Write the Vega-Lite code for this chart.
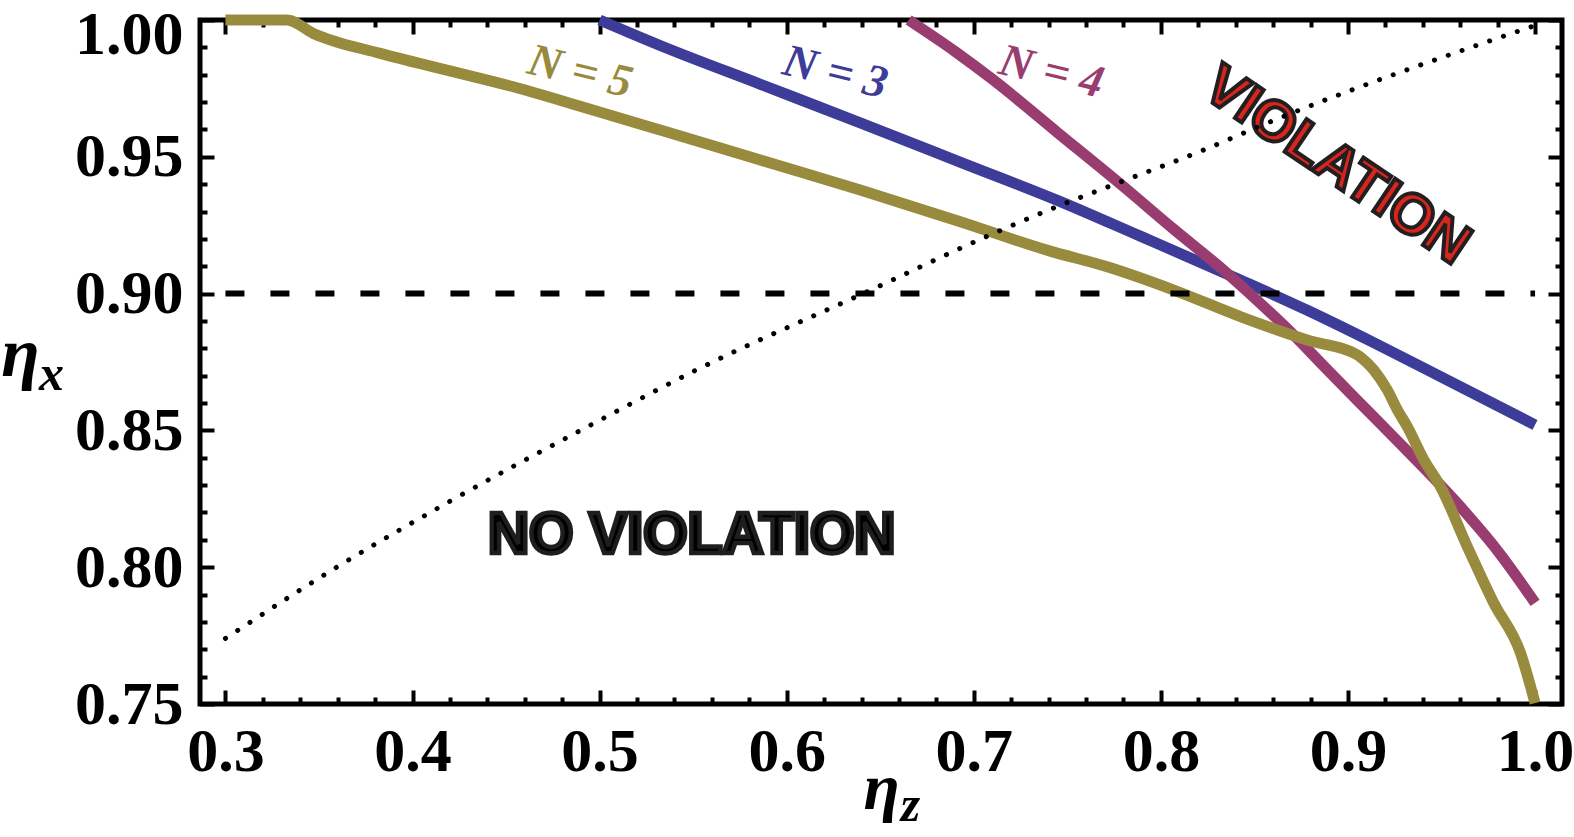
{
  "$schema": "https://vega.github.io/schema/vega-lite/v6.json",
  "width": 1362,
  "height": 684,
  "autosize": {"type": "none"},
  "padding": {"left": 200, "top": 20, "right": 12, "bottom": 133},
  "background": "white",
  "config": {"view": {"stroke": "black", "strokeWidth": 5}},
  "datasets": {
    "curves": [
      {"N": "3", "eta_z": 0.5, "eta_x": 1.0},
      {"N": "3", "eta_z": 0.533, "eta_x": 0.9905},
      {"N": "3", "eta_z": 0.586, "eta_x": 0.9765},
      {"N": "3", "eta_z": 0.639, "eta_x": 0.9625},
      {"N": "3", "eta_z": 0.693, "eta_x": 0.948},
      {"N": "3", "eta_z": 0.745, "eta_x": 0.934},
      {"N": "3", "eta_z": 0.789, "eta_x": 0.921},
      {"N": "3", "eta_z": 0.8425, "eta_x": 0.905},
      {"N": "3", "eta_z": 0.878, "eta_x": 0.894},
      {"N": "3", "eta_z": 0.914, "eta_x": 0.882},
      {"N": "3", "eta_z": 0.95, "eta_x": 0.8695},
      {"N": "3", "eta_z": 1.0, "eta_x": 0.852},
      {"N": "4", "eta_z": 0.6652, "eta_x": 1.0},
      {"N": "4", "eta_z": 0.69, "eta_x": 0.9885},
      {"N": "4", "eta_z": 0.7106, "eta_x": 0.978},
      {"N": "4", "eta_z": 0.7445, "eta_x": 0.959},
      {"N": "4", "eta_z": 0.7802, "eta_x": 0.939},
      {"N": "4", "eta_z": 0.8069, "eta_x": 0.9235},
      {"N": "4", "eta_z": 0.8336, "eta_x": 0.9085},
      {"N": "4", "eta_z": 0.8515, "eta_x": 0.8975},
      {"N": "4", "eta_z": 0.8693, "eta_x": 0.886},
      {"N": "4", "eta_z": 0.8871, "eta_x": 0.8735},
      {"N": "4", "eta_z": 0.905, "eta_x": 0.861},
      {"N": "4", "eta_z": 0.9245, "eta_x": 0.8475},
      {"N": "4", "eta_z": 0.9602, "eta_x": 0.822},
      {"N": "4", "eta_z": 0.98, "eta_x": 0.806},
      {"N": "4", "eta_z": 1.0, "eta_x": 0.787},
      {"N": "5", "eta_z": 0.3, "eta_x": 1.0},
      {"N": "5", "eta_z": 0.333, "eta_x": 1.0},
      {"N": "5", "eta_z": 0.347, "eta_x": 0.9951},
      {"N": "5", "eta_z": 0.3827, "eta_x": 0.9878},
      {"N": "5", "eta_z": 0.4183, "eta_x": 0.9817},
      {"N": "5", "eta_z": 0.4539, "eta_x": 0.9756},
      {"N": "5", "eta_z": 0.4896, "eta_x": 0.9685},
      {"N": "5", "eta_z": 0.5324, "eta_x": 0.9598},
      {"N": "5", "eta_z": 0.5859, "eta_x": 0.9488},
      {"N": "5", "eta_z": 0.6393, "eta_x": 0.9379},
      {"N": "5", "eta_z": 0.6928, "eta_x": 0.9263},
      {"N": "5", "eta_z": 0.74, "eta_x": 0.9157},
      {"N": "5", "eta_z": 0.7713, "eta_x": 0.9098},
      {"N": "5", "eta_z": 0.8069, "eta_x": 0.9013},
      {"N": "5", "eta_z": 0.8425, "eta_x": 0.8916},
      {"N": "5", "eta_z": 0.8782, "eta_x": 0.883},
      {"N": "5", "eta_z": 0.905, "eta_x": 0.8776},
      {"N": "5", "eta_z": 0.9076, "eta_x": 0.8763},
      {"N": "5", "eta_z": 0.9138, "eta_x": 0.8721},
      {"N": "5", "eta_z": 0.921, "eta_x": 0.8648},
      {"N": "5", "eta_z": 0.9264, "eta_x": 0.8575},
      {"N": "5", "eta_z": 0.9317, "eta_x": 0.8514},
      {"N": "5", "eta_z": 0.9406, "eta_x": 0.8392},
      {"N": "5", "eta_z": 0.9495, "eta_x": 0.8294},
      {"N": "5", "eta_z": 0.9638, "eta_x": 0.8075},
      {"N": "5", "eta_z": 0.978, "eta_x": 0.7868},
      {"N": "5", "eta_z": 0.9923, "eta_x": 0.7685},
      {"N": "5", "eta_z": 1.0, "eta_x": 0.7503}
    ],
    "dotted": [
      {"eta_z": 0.3, "eta_x": 0.774},
      {"eta_z": 0.3585, "eta_x": 0.7996},
      {"eta_z": 0.4182, "eta_x": 0.8234},
      {"eta_z": 0.497, "eta_x": 0.8526},
      {"eta_z": 0.5538, "eta_x": 0.8728},
      {"eta_z": 0.6411, "eta_x": 0.9001},
      {"eta_z": 0.7106, "eta_x": 0.922},
      {"eta_z": 0.7445, "eta_x": 0.9318},
      {"eta_z": 0.7766, "eta_x": 0.9403},
      {"eta_z": 0.8229, "eta_x": 0.9525},
      {"eta_z": 0.8564, "eta_x": 0.9622},
      {"eta_z": 1.0, "eta_x": 0.998}
    ],
    "dashed": [
      {"eta_z": 0.3, "eta_x": 0.9},
      {"eta_z": 1.0, "eta_x": 0.9}
    ],
    "nlabels": [
      {"N": "5", "label": "N = 5", "eta_z": 0.4896, "eta_x": 0.9811},
      {"N": "3", "label": "N = 3", "eta_z": 0.626, "eta_x": 0.9808},
      {"N": "4", "label": "N = 4", "eta_z": 0.7415, "eta_x": 0.981}
    ],
    "violation": [
      {"label": "VIOLATION", "eta_z": 0.8939, "eta_x": 0.9466}
    ],
    "noviolation": [
      {"label": "NO VIOLATION", "eta_z": 0.5492, "eta_x": 0.8052}
    ],
    "subs": [
      {"label": "x", "eta_z": 0.207, "eta_x": 0.8648},
      {"label": "z", "eta_z": 0.6661, "eta_x": 0.7072}
    ]
  },
  "layer": [
    {
      "data": {"name": "curves"},
      "transform": [{"filter": "datum.N == '3'"}],
      "mark": {"type": "line", "strokeWidth": 11, "interpolate": "monotone"},
      "encoding": {
        "x": {
          "field": "eta_z", "type": "quantitative",
          "scale": {"domain": [0.2864, 1.0144], "nice": false, "zero": false},
          "axis": {
            "orient": "bottom",
            "values": [0.3,0.32,0.34,0.36,0.38,0.4,0.42,0.44,0.46,0.48,0.5,0.52,0.54,0.56,0.58,0.6,0.62,0.64,0.66,0.68,0.7,0.72,0.74,0.76,0.78,0.8,0.82,0.84,0.86,0.88,0.9,0.92,0.94,0.96,0.98,1.0],
            "labelExpr": "abs(datum.value*10 - round(datum.value*10)) < 0.000001 ? format(datum.value, '.1f') : ''",
            "tickSize": {"condition": {"test": "abs(datum.value*10 - round(datum.value*10)) < 0.000001", "value": -14}, "value": -7},
            "tickWidth": 4,
            "tickColor": "black",
            "domain": false,
            "grid": false,
            "labelFont": "Liberation Serif",
            "labelFontWeight": "bold",
            "labelFontSize": 62,
            "labelColor": "black",
            "labelPadding": 31,
            "labelFlush": false,
            "labelOverlap": false,
            "title": "η",
            "titleFont": "Liberation Serif",
            "titleFontStyle": "italic",
            "titleFontWeight": "bold",
            "titleFontSize": 66,
            "titleColor": "black",
            "titleX": 681,
            "titleY": 104,
            "titleAlign": "center",
            "titleBaseline": "alphabetic"
          }
        },
        "y": {
          "field": "eta_x", "type": "quantitative",
          "scale": {"domain": [0.75, 1.0], "nice": false, "zero": false},
          "axis": {
            "orient": "left",
            "values": [0.75,0.76,0.77,0.78,0.79,0.8,0.81,0.82,0.83,0.84,0.85,0.86,0.87,0.88,0.89,0.9,0.91,0.92,0.93,0.94,0.95,0.96,0.97,0.98,0.99,1.0],
            "labelExpr": "abs(datum.value*20 - round(datum.value*20)) < 0.000001 ? format(datum.value, '.2f') : ''",
            "tickSize": {"condition": {"test": "abs(datum.value*20 - round(datum.value*20)) < 0.000001", "value": -14}, "value": -7},
            "tickWidth": 4,
            "tickColor": "black",
            "domain": false,
            "grid": false,
            "labelFont": "Liberation Serif",
            "labelFontWeight": "bold",
            "labelFontSize": 62,
            "labelColor": "black",
            "labelPadding": 31,
            "labelOffset": {"condition": {"test": "datum.value > 0.999", "value": 14}, "value": 0},
            "labelFlush": false,
            "labelOverlap": false,
            "title": "η",
            "titleFont": "Liberation Serif",
            "titleFontStyle": "italic",
            "titleFontWeight": "bold",
            "titleFontSize": 70,
            "titleColor": "black",
            "titleAngle": 0,
            "titleX": -180,
            "titleY": 355,
            "titleAlign": "center",
            "titleBaseline": "alphabetic"
          }
        },
        "color": {"field": "N", "type": "nominal", "scale": {"domain": ["3", "4", "5"], "range": ["#3D3D99", "#993D71", "#998B3D"]}, "legend": null}
      }
    },
    {
      "data": {"name": "curves"},
      "transform": [{"filter": "datum.N == '4'"}],
      "mark": {"type": "line", "strokeWidth": 11, "interpolate": "monotone"},
      "encoding": {
        "x": {"field": "eta_z", "type": "quantitative", "scale": {"domain": [0.2864, 1.0144], "nice": false, "zero": false}, "axis": null},
        "y": {"field": "eta_x", "type": "quantitative", "scale": {"domain": [0.75, 1.0], "nice": false, "zero": false}, "axis": null},
        "color": {"field": "N", "type": "nominal", "legend": null}
      }
    },
    {
      "data": {"name": "curves"},
      "transform": [{"filter": "datum.N == '5'"}],
      "mark": {"type": "line", "strokeWidth": 11, "interpolate": "monotone"},
      "encoding": {
        "x": {"field": "eta_z", "type": "quantitative", "scale": {"domain": [0.2864, 1.0144], "nice": false, "zero": false}, "axis": null},
        "y": {"field": "eta_x", "type": "quantitative", "scale": {"domain": [0.75, 1.0], "nice": false, "zero": false}, "axis": null},
        "color": {"field": "N", "type": "nominal", "legend": null}
      }
    },
    {
      "data": {"name": "dashed"},
      "mark": {"type": "line", "color": "black", "strokeWidth": 6, "strokeDash": [19, 26]},
      "encoding": {
        "x": {
          "field": "eta_z", "type": "quantitative",
          "scale": {"domain": [0.2864, 1.0144], "nice": false, "zero": false},
          "axis": {
            "orient": "top",
            "values": [0.3,0.32,0.34,0.36,0.38,0.4,0.42,0.44,0.46,0.48,0.5,0.52,0.54,0.56,0.58,0.6,0.62,0.64,0.66,0.68,0.7,0.72,0.74,0.76,0.78,0.8,0.82,0.84,0.86,0.88,0.9,0.92,0.94,0.96,0.98,1.0],
            "labels": false,
            "tickSize": {"condition": {"test": "abs(datum.value*10 - round(datum.value*10)) < 0.000001", "value": -14}, "value": -7},
            "tickWidth": 4,
            "tickColor": "black",
            "domain": false,
            "grid": false,
            "title": null
          }
        },
        "y": {
          "field": "eta_x", "type": "quantitative",
          "scale": {"domain": [0.75, 1.0], "nice": false, "zero": false},
          "axis": {
            "orient": "right",
            "values": [0.75,0.76,0.77,0.78,0.79,0.8,0.81,0.82,0.83,0.84,0.85,0.86,0.87,0.88,0.89,0.9,0.91,0.92,0.93,0.94,0.95,0.96,0.97,0.98,0.99,1.0],
            "labels": false,
            "tickSize": {"condition": {"test": "abs(datum.value*20 - round(datum.value*20)) < 0.000001", "value": -14}, "value": -7},
            "tickWidth": 4,
            "tickColor": "black",
            "domain": false,
            "grid": false,
            "title": null
          }
        }
      }
    },
    {
      "data": {"name": "violation"},
      "mark": {"type": "text", "font": "Liberation Sans", "fontWeight": "bold", "fontSize": 57, "angle": 34, "align": "center", "baseline": "middle", "fill": "#DA251D", "stroke": "#231F20", "strokeWidth": 4},
      "encoding": {
        "x": {"field": "eta_z", "type": "quantitative", "scale": {"domain": [0.2864, 1.0144], "nice": false, "zero": false}, "axis": null},
        "y": {"field": "eta_x", "type": "quantitative", "scale": {"domain": [0.75, 1.0], "nice": false, "zero": false}, "axis": null},
        "text": {"field": "label"}
      }
    },
    {
      "data": {"name": "noviolation"},
      "mark": {"type": "text", "font": "Liberation Sans", "fontWeight": "bold", "fontSize": 57, "align": "center", "baseline": "alphabetic", "fill": "black", "stroke": "#1e1e1e", "strokeWidth": 4.5},
      "encoding": {
        "x": {"field": "eta_z", "type": "quantitative", "scale": {"domain": [0.2864, 1.0144], "nice": false, "zero": false}, "axis": null},
        "y": {"field": "eta_x", "type": "quantitative", "scale": {"domain": [0.75, 1.0], "nice": false, "zero": false}, "axis": null},
        "text": {"field": "label"}
      }
    },
    {
      "data": {"name": "nlabels"},
      "mark": {"type": "text", "font": "Liberation Serif", "fontStyle": "italic", "fontWeight": "bold", "fontSize": 46, "angle": 13.5, "align": "center", "baseline": "middle"},
      "encoding": {
        "x": {"field": "eta_z", "type": "quantitative", "scale": {"domain": [0.2864, 1.0144], "nice": false, "zero": false}, "axis": null},
        "y": {"field": "eta_x", "type": "quantitative", "scale": {"domain": [0.75, 1.0], "nice": false, "zero": false}, "axis": null},
        "text": {"field": "label"},
        "color": {"field": "N", "type": "nominal", "legend": null}
      }
    },
    {
      "data": {"name": "subs"},
      "mark": {"type": "text", "font": "Liberation Serif", "fontStyle": "italic", "fontWeight": "bold", "fontSize": 50, "align": "center", "baseline": "alphabetic", "color": "black"},
      "encoding": {
        "x": {"field": "eta_z", "type": "quantitative", "scale": {"domain": [0.2864, 1.0144], "nice": false, "zero": false}, "axis": null},
        "y": {"field": "eta_x", "type": "quantitative", "scale": {"domain": [0.75, 1.0], "nice": false, "zero": false}, "axis": null},
        "text": {"field": "label"}
      }
    },
    {
      "data": {"name": "dotted"},
      "mark": {"type": "line", "color": "black", "strokeWidth": 5, "strokeCap": "round", "strokeDash": [0.1, 14.5], "interpolate": "monotone"},
      "encoding": {
        "x": {"field": "eta_z", "type": "quantitative", "scale": {"domain": [0.2864, 1.0144], "nice": false, "zero": false}, "axis": null},
        "y": {"field": "eta_x", "type": "quantitative", "scale": {"domain": [0.75, 1.0], "nice": false, "zero": false}, "axis": null}
      }
    }
  ],
  "resolve": {"axis": {"x": "independent", "y": "independent"}}
}
